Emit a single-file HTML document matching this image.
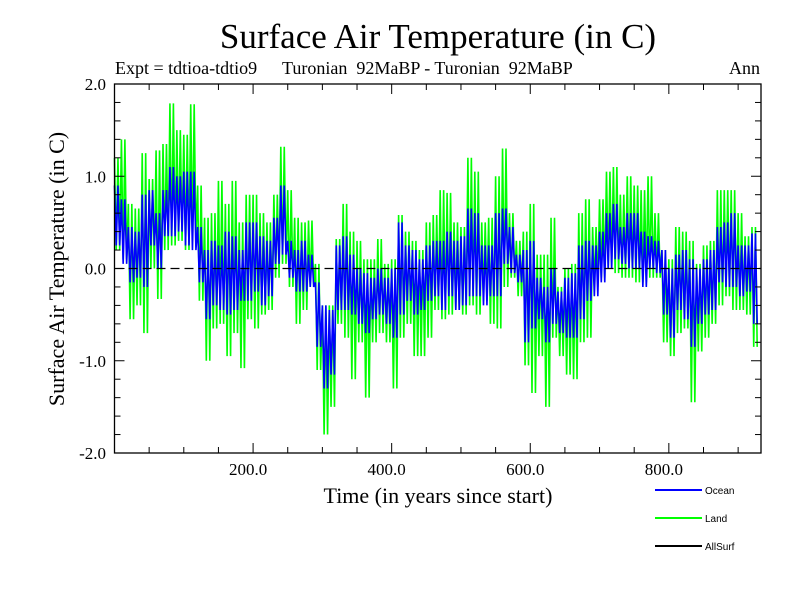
<!DOCTYPE html>
<html><head><meta charset="utf-8"><style>
body{margin:0;background:#fff}
svg text{font-family:"Liberation Serif",serif}
</style></head><body>
<svg id="chart" width="800" height="600" viewBox="0 0 800 600" xmlns="http://www.w3.org/2000/svg">
<rect width="800" height="600" fill="#fff"/>
<text x="438" y="48" font-size="35" text-anchor="middle">Surface Air Temperature (in C)</text>
<text x="115" y="74" font-size="18">Expt = tdtioa-tdtio9</text>
<text x="282" y="74" font-size="18" xml:space="preserve">Turonian  92MaBP - Turonian  92MaBP</text>
<text x="760" y="74" font-size="18" text-anchor="end">Ann</text>
<text transform="translate(64,269) rotate(-90)" font-size="22" text-anchor="middle">Surface Air Temperature (in C)</text>
<text x="438" y="503" font-size="22" text-anchor="middle">Time (in years since start)</text>
<g id="plot"></g>
<g font-family="Liberation Sans, sans-serif">
<line x1="655" y1="490" x2="702" y2="490" stroke="#0000ff" stroke-width="2"/>
<text x="705" y="494" font-size="10" style="font-family:'Liberation Sans',sans-serif">Ocean</text>
<line x1="655" y1="518" x2="702" y2="518" stroke="#00ff00" stroke-width="2"/>
<text x="705" y="522" font-size="10" style="font-family:'Liberation Sans',sans-serif">Land</text>
<line x1="655" y1="546" x2="702" y2="546" stroke="#000" stroke-width="2"/>
<text x="705" y="550" font-size="10" style="font-family:'Liberation Sans',sans-serif">AllSurf</text>
</g>
</svg>
<script>
// decade bins (years 0,10,20,...)
const binYears = [0,10,20,30,40,50,60,70,80,90,100,110,120,130,140,150,160,170,180,190,200,210,220,230,240,250,260,270,280,290,300,310,320,330,340,350,360,370,380,390,400,410,420,430,440,450,460,470,480,490,500,510,520,530,540,550,560,570,580,590,600,610,620,630,640,650,660,670,680,690,700,710,720,730,740,750,760,770,780,790,800,810,820,830,840,850,860,870,880,890,900,910,920];
const oceanHigh = [0.9,0.75,0.45,0.4,0.8,0.85,0.6,0.85,1.1,1.0,1.05,1.05,0.45,0.2,0.3,0.25,0.4,0.35,0.2,0.5,0.5,0.35,0.3,0.55,0.9,0.3,0.2,0.3,0.15,-0.15,-0.4,-0.45,0.25,0.35,0.15,0.0,-0.05,-0.1,0.0,-0.1,0.0,0.5,0.25,0.2,0.1,0.25,0.3,0.3,0.4,0.3,0.35,0.65,0.6,0.25,0.25,0.6,0.65,0.45,0.15,0.2,0.3,-0.1,-0.2,0.0,-0.25,-0.1,-0.05,0.25,0.3,0.25,0.4,0.6,0.7,0.45,0.6,0.6,0.4,0.35,0.3,0.2,0.0,0.15,0.2,0.1,0.0,0.1,0.2,0.45,0.5,0.6,0.25,0.25,0.38];
const oceanLow = [0.25,0.05,-0.15,-0.1,-0.2,0.25,0.0,0.35,0.35,0.4,0.25,0.2,-0.15,-0.55,-0.4,-0.45,-0.5,-0.45,-0.35,-0.35,-0.25,-0.4,-0.3,0.05,0.15,-0.1,-0.25,-0.25,-0.2,-0.85,-1.3,-1.15,-0.45,-0.45,-0.5,-0.6,-0.7,-0.55,-0.5,-0.6,-0.75,-0.5,-0.35,-0.5,-0.45,-0.35,-0.3,-0.45,-0.3,-0.45,-0.4,-0.3,-0.3,-0.4,-0.3,-0.3,0.05,-0.05,-0.15,-0.8,-0.65,-0.55,-0.8,-0.6,-0.7,-0.75,-0.75,-0.55,-0.35,-0.3,-0.15,0.0,0.1,0.05,0.0,0.0,-0.2,0.0,-0.05,-0.5,-0.75,-0.45,-0.55,-0.85,-0.6,-0.5,-0.45,-0.15,-0.2,-0.2,-0.3,-0.25,-0.6];
const landHigh = [1.2,1.4,0.7,0.65,1.25,0.97,1.28,1.35,1.79,1.5,1.45,1.78,0.9,0.55,0.6,0.95,0.7,0.95,0.5,0.8,0.8,0.6,0.5,0.8,1.32,0.85,0.55,0.5,0.52,0.05,-0.4,-0.4,0.32,0.7,0.4,0.3,0.1,0.1,0.32,0.05,0.1,0.58,0.4,0.3,0.2,0.5,0.58,0.85,0.82,0.5,0.45,1.2,1.05,0.5,0.55,1.0,1.3,0.6,0.3,0.4,0.7,0.15,0.15,0.55,-0.2,0.0,0.05,0.6,0.75,0.45,0.75,1.05,1.1,0.8,1.0,0.9,0.85,1.0,0.6,0.2,0.1,0.45,0.4,0.3,0.05,0.25,0.3,0.85,0.85,0.85,0.6,0.35,0.45];
const landLow = [0.2,0.1,-0.55,-0.4,-0.7,0.0,-0.33,0.2,0.25,0.3,0.2,0.3,-0.35,-1.0,-0.65,-0.6,-0.95,-0.7,-1.08,-0.55,-0.65,-0.5,-0.45,-0.1,0.05,-0.2,-0.6,-0.45,-0.2,-1.1,-1.8,-1.5,-0.6,-0.75,-1.2,-0.8,-1.4,-0.8,-0.7,-0.8,-1.3,-0.75,-0.6,-0.95,-0.95,-0.75,-0.45,-0.55,-0.5,-0.45,-0.5,-0.4,-0.5,-0.35,-0.6,-0.65,-0.2,-0.1,-0.3,-1.05,-1.35,-0.95,-1.5,-0.75,-0.95,-1.15,-1.2,-0.8,-0.75,-0.2,-0.1,0.0,-0.05,-0.1,-0.1,-0.15,-0.15,-0.1,-0.1,-0.8,-0.95,-0.7,-0.65,-1.45,-0.9,-0.75,-0.6,-0.4,-0.3,-0.45,-0.45,-0.5,-0.85];
const yTicks = [2.0,1.0,0.0,-1.0,-2.0];
const yTickLabels = ["2.0","1.0","0.0","-1.0","-2.0"];
const xTicks = [200,400,600,800];
const xTickLabels = ["200.0","400.0","600.0","800.0"];

const X0=114.5, XR=761, YT=84, YB=453, XMIN=0, XMAX=933, YMIN=-2, YMAX=2;
const xs = v => X0 + (v-XMIN)/(XMAX-XMIN)*(XR-X0);
const ys = v => YB - (v-YMIN)/(YMAX-YMIN)*(YB-YT);
const NS="http://www.w3.org/2000/svg";
const plot=document.getElementById('plot');
function mk(tag,attrs){const e=document.createElementNS(NS,tag);for(const k in attrs)e.setAttribute(k,attrs[k]);plot.appendChild(e);return e;}

function series(hi,lo,color,w,name){
  let pts=[];
  binYears.forEach((yr,i)=>{
    const end=Math.min(yr+10,XMAX);
    const step=(end-yr)/4;
    for(let k=0;k<4;k++){
      const v=k%2===0?hi[i]:lo[i];
      pts.push(xs(yr+k*step).toFixed(2)+','+ys(v).toFixed(2));
    }
  });
  const p=mk('polyline',{points:pts.join(' '),fill:'none',stroke:color,'stroke-width':w,'stroke-linejoin':'miter'});
  
  
}
series(landHigh,landLow,'#00ff00',1.6,'land-series');
series(oceanHigh,oceanLow,'#0000ff',1.6,'ocean-series');

const zl=mk('line',{x1:X0,x2:XR,y1:ys(0),y2:ys(0),stroke:'#000','stroke-width':1.3,'stroke-dasharray':'9,5'});



const fr=mk('rect',{x:X0,y:YT,width:XR-X0,height:YB-YT,fill:'none',stroke:'#000','stroke-width':1.3});



// minor y ticks every 0.2
for(let v=-2;v<=2.001;v+=0.2){
  const major=Math.abs(v-Math.round(v))<1e-6;
  const L=major?10:6, y=ys(v);
  const t1=mk('line',{x1:X0,x2:X0+L,y1:y,y2:y,stroke:'#000','stroke-width':1});
  
  
  const t2=mk('line',{x1:XR,x2:XR-L,y1:y,y2:y,stroke:'#000','stroke-width':1});
  
  
}
for(let v=50;v<XMAX;v+=50){
  const major=v%200===0;
  const L=major?10:6, x=xs(v);
  const t1=mk('line',{x1:x,x2:x,y1:YB,y2:YB-L,stroke:'#000','stroke-width':1});
  
  
  const t2=mk('line',{x1:x,x2:x,y1:YT,y2:YT+L,stroke:'#000','stroke-width':1});
  
  
}
yTicks.forEach((v,i)=>{
  const t=mk('text',{x:106,y:ys(v)+6,'font-size':17,'text-anchor':'end'});
  t.textContent=yTickLabels[i];
  
  
});
xTicks.forEach((v,i)=>{
  const t=mk('text',{x:xs(v)-5,y:475,'font-size':17,'text-anchor':'middle'});
  t.textContent=xTickLabels[i];
  
  
});
</script>
</body></html>
